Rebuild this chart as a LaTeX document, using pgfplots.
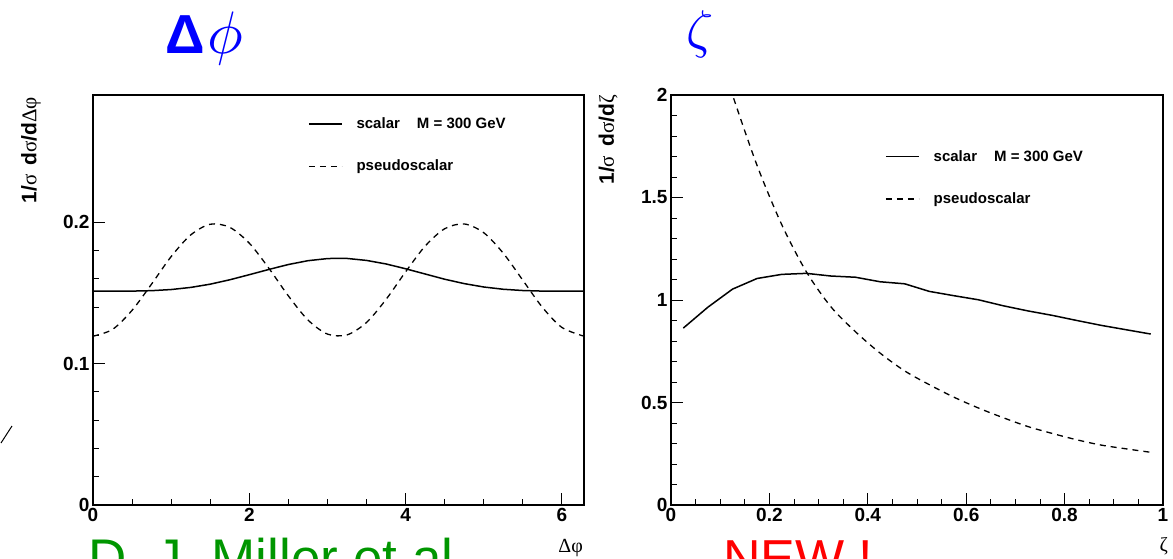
\documentclass[border=0pt]{standalone}
\usepackage{graphicx}
\usepackage{pgfplots}
\pgfplotsset{compat=1.18}
\usepackage{fontspec}
\setmainfont{Liberation Sans}
\newfontfamily\serif{Liberation Serif}
\definecolor{millergreen}{RGB}{0,150,0}

\pgfplotsset{
  rootstyle/.style={
    scale only axis, height=410pt,
    ymin=0, clip=true,
    tick pos=left, tick align=inside,
    major tick length=12pt, minor tick length=6pt,
    axis line style={line width=1.1pt},
    tick style={black, line width=0.9pt},
    tick label style={font=\fontsize{19}{19}\selectfont\bfseries},
    /pgf/number format/assume math mode=true,
    legend image code/.code={\draw[##1] (0pt,0pt) -- (33pt,0pt);},
    legend style={draw=none, fill=none, inner sep=0pt, row sep=26pt,
      font=\fontsize{15}{15}\selectfont\bfseries},
    legend cell align=left,
  },
  scal/.style={black, line width=1.5pt},
  pseudo/.style={black, line width=1.3pt, dash pattern=on 6pt off 5pt},
}

\begin{document}
\begin{tikzpicture}[x=1pt,y=1pt]
\path[use as bounding box, clip] (0,0) rectangle (1173,558);

% left panel: delta phi
\begin{axis}[rootstyle, at={(93pt,53pt)}, anchor=south west, width=491pt,
  xmin=0, xmax=6.2832, ymax=0.29,
  xtick={0,2,4,6}, minor x tick num=3,
  ytick={0,0.1,0.2}, minor y tick num=4,
  legend style={at={(0.4376,0.95)}, anchor=north west}]
\addplot[scal] coordinates {
(0,0.1512) (0.25,0.1512) (0.5,0.1513) (0.75,0.1516) (1.0,0.1524) (1.25,0.1539)
(1.5,0.1562) (1.75,0.1593) (2.0,0.1629) (2.25,0.1666) (2.5,0.1701) (2.75,0.1728)
(3.0,0.1743) (3.1416,0.1745) (3.25,0.1744) (3.5,0.1730) (3.75,0.1705) (4.0,0.1671)
(4.25,0.1634) (4.5,0.1597) (4.75,0.1566) (5.0,0.1542) (5.25,0.1526) (5.5,0.1517)
(5.75,0.1513) (6.0,0.1512) (6.2832,0.1512)};
\addlegendentry{\hspace{12pt}scalar\hspace{17pt}M = 300 GeV}
\addplot[pseudo, smooth] coordinates {
(0,0.1194) (0.25,0.1242) (0.5,0.1377) (0.75,0.1563) (1.0,0.1757) (1.25,0.1910)
(1.5,0.1986) (1.75,0.1964) (2.0,0.1852) (2.25,0.1675) (2.5,0.1479) (2.75,0.1309)
(3.0,0.1209) (3.25,0.1203) (3.5,0.1291) (3.75,0.1454) (4.0,0.1649) (4.25,0.1831)
(4.5,0.1954) (4.75,0.1988) (5.0,0.1926) (5.25,0.1781) (5.5,0.1590) (5.75,0.1399)
(6.0,0.1256) (6.2832,0.1194)};
\addlegendentry{\hspace{12pt}pseudoscalar}
\end{axis}

% right panel: zeta
\begin{axis}[rootstyle, at={(671pt,53pt)}, anchor=south west, width=492pt,
  xmin=0, xmax=1, ymax=2,
  xtick={0,0.2,0.4,0.6,0.8,1}, minor x tick num=3,
  ytick={0,0.5,1,1.5,2}, minor y tick num=4,
  legend style={at={(0.435,0.87)}, anchor=north west}]
\addplot[scal] coordinates {
(0.025,0.863) (0.075,0.965) (0.125,1.053) (0.175,1.105) (0.225,1.125) (0.275,1.130)
(0.325,1.117) (0.375,1.111) (0.425,1.089) (0.475,1.079) (0.525,1.042) (0.575,1.021)
(0.625,1.001) (0.675,0.972) (0.725,0.947) (0.775,0.925) (0.825,0.900) (0.875,0.876)
(0.925,0.855) (0.975,0.834)};
\addlegendentry{\hspace{12pt}scalar\hspace{17pt}M = 300 GeV}
\addplot[pseudo, smooth] coordinates {
(0.075,2.45) (0.1,2.19) (0.125,2.0) (0.175,1.656) (0.225,1.368) (0.275,1.138)
(0.325,0.967) (0.375,0.845) (0.425,0.741) (0.475,0.654) (0.525,0.587) (0.575,0.526)
(0.625,0.473) (0.675,0.426) (0.725,0.383) (0.775,0.349) (0.825,0.318) (0.875,0.292)
(0.925,0.274) (0.975,0.257)};
\addlegendentry{\hspace{12pt}pseudoscalar}
\end{axis}

% titles and labels
\node[text=blue, font=\fontsize{55}{55}\selectfont, inner sep=0pt, anchor=base west]
  at (165,504) {{\bfseries Δ}\hspace{3pt}{\fontsize{10}{10}\selectfont\scalebox{6}{$\phi$}}};
\node[text=blue, inner sep=0pt, anchor=base west, font=\fontsize{10}{10}\selectfont]
  at (686,510) {\scalebox{5.3}{$\zeta$}};
\node[rotate=90, anchor=east, inner sep=0pt, font=\fontsize{21}{21}\selectfont]
  at (31,461) {\textbf{1/}{\serif σ}\hspace{9pt}\textbf{d}{\serif σ}\textbf{/d}{\serif Δφ}};
\node[rotate=90, anchor=east, inner sep=0pt, font=\fontsize{21}{21}\selectfont]
  at (608,463) {\textbf{1/}{\serif σ}\hspace{9pt}\textbf{d}{\serif σ}\textbf{/d}{\serif ζ}};
\node[anchor=east, inner sep=0pt, font=\fontsize{20}{20}\selectfont\serif] at (583,10) {Δφ};
\node[anchor=east, inner sep=0pt, font=\fontsize{20}{20}\selectfont\serif] at (1168,12) {ζ};
\node[anchor=base west, inner sep=0pt, text=millergreen, font=\fontsize{53}{53}\selectfont]
  at (88,-18) {D. J. Miller et al.};
\node[anchor=base west, inner sep=0pt, text=red, font=\fontsize{52}{52}\selectfont]
  at (723,-18) {NEW !};
\draw[line width=1pt] (1,115) -- (12,132);
\end{tikzpicture}
\end{document}
